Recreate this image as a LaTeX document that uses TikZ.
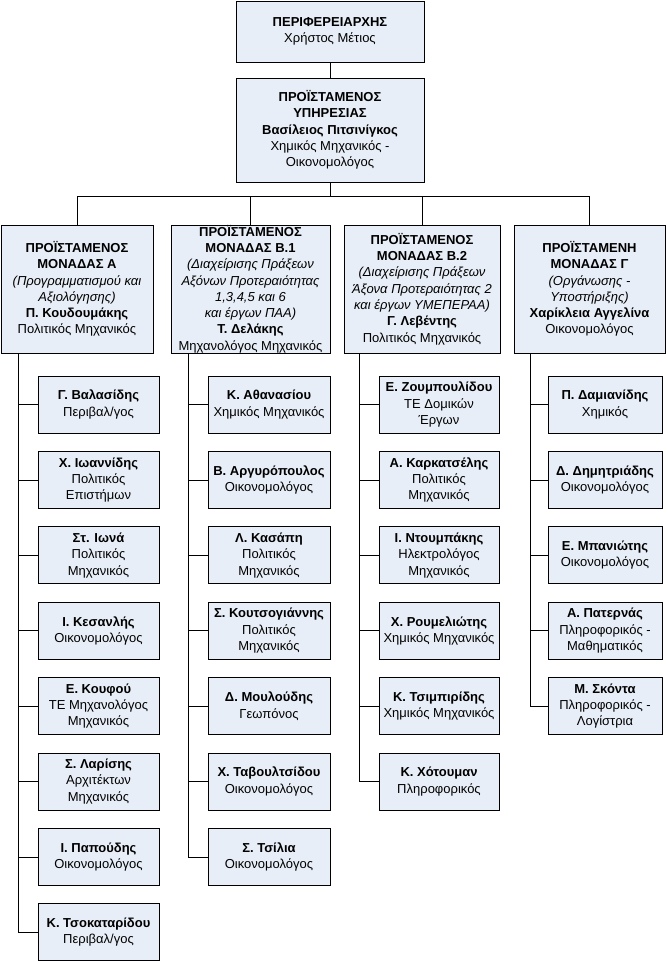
\documentclass[tikz,border=0pt]{standalone}
\usepackage{fontspec}
\setmainfont{Liberation Sans}
\definecolor{boxfill}{RGB}{232,238,247}

\tikzset{
  post/.style={draw,fill=boxfill,line width=0.9pt,align=center,inner sep=0pt,
    font=\fontsize{13}{16.3}\selectfont},
  head/.style={post,minimum width=188pt},
  unit/.style={post,minimum height=128pt},
  staff/.style={post,minimum height=57pt},
  colA/.style={staff,minimum width=121pt},
  colB/.style={staff,minimum width=122pt},
  colC/.style={staff,minimum width=120pt},
  colD/.style={staff,minimum width=114pt},
}

\begin{document}
\begin{tikzpicture}[x=1pt,y=-1pt,line width=0.8pt]

\useasboundingbox (0,0) rectangle (667,962);

% head of the region and of the service
\node [head,minimum height=61pt] (pf) at (330,31.5)
  {\textbf{ΠΕΡΙΦΕΡΕΙΑΡΧΗΣ}\\Χρήστος Μέτιος};
\node [head,minimum height=104pt] (ps) at (330,130)
  {\textbf{ΠΡΟΪΣΤΑΜΕΝΟΣ}\\\textbf{ΥΠΗΡΕΣΙΑΣ}\\\textbf{Βασίλειος Πιτσινίγκος}\\Χημικός Μηχανικός -\\Οικονομολόγος};

% units
\node [unit,minimum width=152pt] (ua) at (77,289)
  {\textbf{ΠΡΟΪΣΤΑΜΕΝΟΣ}\\\textbf{ΜΟΝΑΔΑΣ Α}\\\textit{(Προγραμματισμού και}\\\textit{Αξιολόγησης)}\\\textbf{Π. Κουδουμάκης}\\Πολιτικός Μηχανικός};
\node [unit,minimum width=159pt] (ub) at (250.5,289)
  {\textbf{ΠΡΟΪΣΤΑΜΕΝΟΣ}\\\textbf{ΜΟΝΑΔΑΣ Β.1}\\\textit{(Διαχείρισης Πράξεων}\\\textit{Αξόνων Προτεραιότητας}\\\textit{1,3,4,5 και 6}\\\textit{και έργων ΠΑΑ)}\\\textbf{Τ. Δελάκης}\\Μηχανολόγος Μηχανικός};
\node [unit,minimum width=156pt] (uc) at (422,289)
  {\textbf{ΠΡΟΪΣΤΑΜΕΝΟΣ}\\\textbf{ΜΟΝΑΔΑΣ Β.2}\\\textit{(Διαχείρισης Πράξεων}\\\textit{Άξονα Προτεραιότητας 2}\\\textit{και έργων ΥΜΕΠΕΡΑΑ)}\\\textbf{Γ. Λεβέντης}\\Πολιτικός Μηχανικός};
\node [unit,minimum width=151pt] (ud) at (589.5,289)
  {\textbf{ΠΡΟΪΣΤΑΜΕΝΗ}\\\textbf{ΜΟΝΑΔΑΣ Γ}\\\textit{(Οργάνωσης -}\\\textit{Υποστήριξης)}\\\textbf{Χαρίκλεια Αγγελίνα}\\Οικονομολόγος};

% unit A
\node [colA] (a1) at (98.5,404.5) {\textbf{Γ. Βαλασίδης}\\Περιβαλ/γος};
\node [colA] (a2) at (98.5,479.9) {\textbf{Χ. Ιωαννίδης}\\Πολιτικός\\Επιστήμων};
\node [colA] (a3) at (98.5,555.3) {\textbf{Στ. Ιωνά}\\Πολιτικός\\Μηχανικός};
\node [colA] (a4) at (98.5,630.7) {\textbf{Ι. Κεσανλής}\\Οικονομολόγος};
\node [colA] (a5) at (98.5,706.1) {\textbf{Ε. Κουφού}\\ΤΕ Μηχανολόγος\\Μηχανικός};
\node [colA] (a6) at (98.5,781.5) {\textbf{Σ. Λαρίσης}\\Αρχιτέκτων\\Μηχανικός};
\node [colA] (a7) at (98.5,856.9) {\textbf{Ι. Παπούδης}\\Οικονομολόγος};
\node [colA] (a8) at (98.5,932.3) {\textbf{Κ. Τσοκαταρίδου}\\Περιβαλ/γος};

% unit B.1
\node [colB] (b1) at (269,404.5) {\textbf{Κ. Αθανασίου}\\Χημικός Μηχανικός};
\node [colB] (b2) at (269,479.9) {\textbf{Β. Αργυρόπουλος}\\Οικονομολόγος};
\node [colB] (b3) at (269,555.3) {\textbf{Λ. Κασάπη}\\Πολιτικός\\Μηχανικός};
\node [colB] (b4) at (269,630.7) {\textbf{Σ. Κουτσογιάννης}\\Πολιτικός\\Μηχανικός};
\node [colB] (b5) at (269,706.1) {\textbf{Δ. Μουλούδης}\\Γεωπόνος};
\node [colB] (b6) at (269,781.5) {\textbf{Χ. Ταβουλτσίδου}\\Οικονομολόγος};
\node [colB] (b7) at (269,856.9) {\textbf{Σ. Τσίλια}\\Οικονομολόγος};

% unit B.2
\node [colC] (c1) at (439,404.5) {\textbf{Ε. Ζουμπουλίδου}\\ΤΕ Δομικών\\Έργων};
\node [colC] (c2) at (439,479.9) {\textbf{Α. Καρκατσέλης}\\Πολιτικός\\Μηχανικός};
\node [colC] (c3) at (439,555.3) {\textbf{Ι. Ντουμπάκης}\\Ηλεκτρολόγος\\Μηχανικός};
\node [colC] (c4) at (439,630.7) {\textbf{Χ. Ρουμελιώτης}\\Χημικός Μηχανικός};
\node [colC] (c5) at (439,706.1) {\textbf{Κ. Τσιμπιρίδης}\\Χημικός Μηχανικός};
\node [colC] (c6) at (439,781.5) {\textbf{Κ. Χότουμαν}\\Πληροφορικός};

% unit C
\node [colD] (d1) at (605,404.5) {\textbf{Π. Δαμιανίδης}\\Χημικός};
\node [colD] (d2) at (605,479.9) {\textbf{Δ. Δημητριάδης}\\Οικονομολόγος};
\node [colD] (d3) at (605,555.3) {\textbf{Ε. Μπανιώτης}\\Οικονομολόγος};
\node [colD] (d4) at (605,630.7) {\textbf{Α. Πατερνάς}\\Πληροφορικός -\\Μαθηματικός};
\node [colD] (d5) at (605,706.1) {\textbf{Μ. Σκόντα}\\Πληροφορικός -\\Λογίστρια};

\path [draw]
    (pf) -- (ps)
    (ps.south) -- ++(0,14) -| (ua.north)
    (ps.south) -- ++(0,14) -| (ub.north)
    (ps.south) -- ++(0,14) -| (uc.north)
    (ps.south) -- ++(0,14) -| (ud.north)
;

\path [draw]
    ([xshift=18pt]ua.south west) |- (a1.west)
    ([xshift=18pt]ua.south west) |- (a2.west)
    ([xshift=18pt]ua.south west) |- (a3.west)
    ([xshift=18pt]ua.south west) |- (a4.west)
    ([xshift=18pt]ua.south west) |- (a5.west)
    ([xshift=18pt]ua.south west) |- (a6.west)
    ([xshift=18pt]ua.south west) |- (a7.west)
    ([xshift=18pt]ua.south west) |- (a8.west)
    ([xshift=18pt]ub.south west) |- (b1.west)
    ([xshift=18pt]ub.south west) |- (b2.west)
    ([xshift=18pt]ub.south west) |- (b3.west)
    ([xshift=18pt]ub.south west) |- (b4.west)
    ([xshift=18pt]ub.south west) |- (b5.west)
    ([xshift=18pt]ub.south west) |- (b6.west)
    ([xshift=18pt]ub.south west) |- (b7.west)
    ([xshift=16pt]uc.south west) |- (c1.west)
    ([xshift=16pt]uc.south west) |- (c2.west)
    ([xshift=16pt]uc.south west) |- (c3.west)
    ([xshift=16pt]uc.south west) |- (c4.west)
    ([xshift=16pt]uc.south west) |- (c5.west)
    ([xshift=16pt]uc.south west) |- (c6.west)
    ([xshift=17pt]ud.south west) |- (d1.west)
    ([xshift=17pt]ud.south west) |- (d2.west)
    ([xshift=17pt]ud.south west) |- (d3.west)
    ([xshift=17pt]ud.south west) |- (d4.west)
    ([xshift=17pt]ud.south west) |- (d5.west)
;

\end{tikzpicture}
\end{document}
